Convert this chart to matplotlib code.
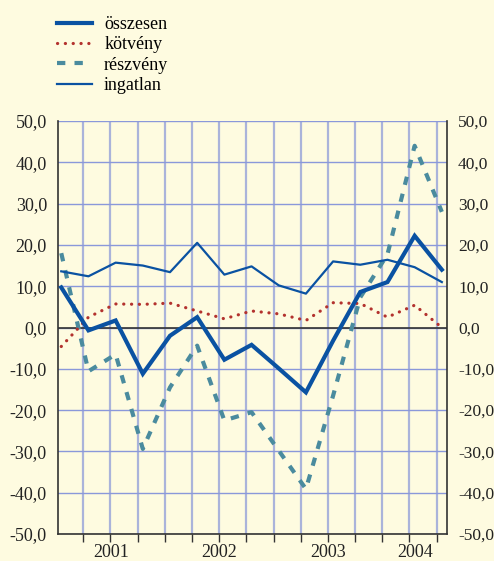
import matplotlib
matplotlib.use("Agg")
import matplotlib.pyplot as plt
from matplotlib.ticker import FuncFormatter

# quarterly data 2001 Q1 .. 2004 Q3
quarters = [f"{y} Q{q}" for y in (2001, 2002, 2003, 2004) for q in (1, 2, 3, 4)][:15]
osszesen = [9.7, -0.7, 1.7, -11.2, -2.0, 2.5, -7.8, -4.2, -9.9, -15.7, -3.2, 8.6, 11.0, 22.2, 14.0]
kotveny = [-4.6, 2.5, 5.7, 5.6, 5.9, 4.0, 2.1, 4.0, 3.3, 1.7, 6.0, 5.8, 2.5, 5.4, 0.0]
reszveny = [18.0, -10.6, -6.5, -29.4, -14.5, -4.4, -22.5, -20.5, -29.8, -39.1, -16.5, 7.3, 17.7, 44.0, 28.0]
ingatlan = [13.6, 12.4, 15.7, 15.0, 13.4, 20.5, 12.8, 14.8, 10.2, 8.2, 16.0, 15.2, 16.4, 14.6, 11.0]
years = ["2001", "2002", "2003", "2004"]
yticks = [-50, -40, -30, -20, -10, 0, 10, 20, 30, 40, 50]

BG = "#fefbe0"; BLUE = "#0a52a2"; RED = "#b3322e"; TEAL = "#4a8b9e"
plt.rcParams["font.family"] = ["Liberation Serif", "DejaVu Serif"]

fig = plt.figure(figsize=(4.94, 5.61), dpi=100, facecolor=BG)
ax = fig.add_axes([58/494, 1-534/561, (447-58)/494, (534-121)/561], facecolor=BG)
x = list(range(len(quarters)))

ax.plot(x, osszesen, color=BLUE, lw=3.0, label="összesen", zorder=5, solid_joinstyle="miter")
ax.plot(x, kotveny, color=RED, lw=2.3, linestyle=(0, (0.05, 2.4)), dash_capstyle="round",
        label="kötvény", zorder=4)
ax.plot(x, reszveny, color=TEAL, lw=3.0, linestyle=(0, (2.0, 2.2)), label="részvény", zorder=3)
ax.plot(x, ingatlan, color=BLUE, lw=1.6, label="ingatlan", zorder=4)

x0, x1 = -0.12, 14.19
ax.set_xlim(x0, x1); ax.set_ylim(-50, 50)
fmt = FuncFormatter(lambda v, p: f"{v:.1f}".replace(".", ","))
ax.set_yticks(yticks)
ax.yaxis.set_major_formatter(fmt)
ax.tick_params(axis="y", length=0, pad=8, labelsize=13, colors="#222222")
ax.grid(axis="y", color="#8a98da", lw=1.0, zorder=1)
ax.axhline(0, color="#333333", lw=1.2, zorder=2)

ax2 = ax.twinx()
ax2.set_ylim(-50, 50); ax2.set_yticks(yticks)
ax2.yaxis.set_major_formatter(fmt)
ax2.tick_params(axis="y", length=0, pad=8, labelsize=12.5, colors="#222222")
for s in ax2.spines.values():
    s.set_visible(False)

# quarter grid lines / ticks, year labels between year boundaries
qpos = [k + 0.81 for k in range(14)]
ax.xaxis.remove_overlapping_locs = False
ax.set_xticks(qpos)
ax.set_xticklabels([])
ax.tick_params(axis="x", which="major", length=6, width=1.0, color="#333333")
bounds = [x0] + [3.81 + 4*k for k in range(3)] + [x1]
ax.set_xticks([(bounds[i] + bounds[i+1]) / 2 for i in range(4)], years, minor=True)
ax.tick_params(axis="x", which="minor", length=0, pad=7, labelsize=13, colors="#222222")
for q in qpos:
    ax.axvline(q, color="#aab3da", lw=1.6, zorder=1)

ax.spines["top"].set_visible(False)
for s in ("left", "right", "bottom"):
    ax.spines[s].set_color("#333333"); ax.spines[s].set_linewidth(1.2)

fig.legend(*ax.get_legend_handles_labels(), loc="upper left", bbox_to_anchor=(50/494, 1-9/561),
           frameon=False, fontsize=13, handlelength=1.9, handletextpad=0.7, labelspacing=0.18,
           borderaxespad=0)

fig.savefig("out.png", dpi=100, facecolor=BG)
